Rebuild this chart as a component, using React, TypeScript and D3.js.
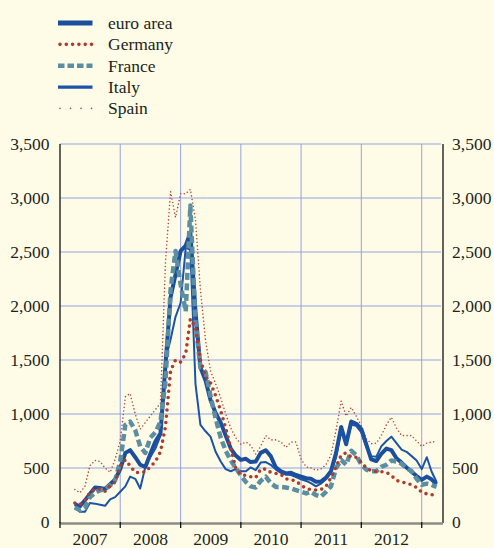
import React from 'react';
import * as d3 from 'd3';

// monthly observations, April 2007 .. April 2013
const seriesNames = ['euro area', 'Germany', 'France', 'Italy', 'Spain'];
const yearLabels = ['2007', '2008', '2009', '2010', '2011', '2012'];
const yTicks = [0, 500, 1000, 1500, 2000, 2500, 3000, 3500];

const euroArea = [
  165, 145, 200, 260, 320, 315, 305, 350, 395,
  490, 640, 665, 600, 530, 510, 630, 745, 820, 1450, 2080, 2290,
  2510, 2560, 2680, 1950, 1430, 1310, 1130, 1010, 920, 800, 680, 615,
  575, 585, 555, 560, 640, 665, 610, 505, 470, 450, 455, 435,
  420, 405, 400, 373, 375, 410, 470, 640, 880, 720, 930, 910,
  860, 715, 580, 565, 630, 680, 665, 590, 550, 505, 465, 425,
  390, 420, 395, 350,
];
const germany = [
  175, 160, 200, 270, 305, 305, 285, 335, 370,
  520, 575, 520, 460, 455, 465, 510, 560, 650, 880, 1400, 1500,
  1480, 1560, 1880, 1800, 1500, 1350, 1290, 1170, 1030, 870, 680, 500,
  440, 430, 420, 410, 490, 490, 460, 450, 440, 400, 390, 380,
  340, 310, 300, 296, 300, 330, 410, 510, 620, 640, 600, 600,
  550, 500, 475, 466, 466, 460, 430, 385, 370, 360, 345, 320,
  275, 260, 255, 235,
];
const france = [
  135, 110, 130, 230, 270, 295, 300, 340, 385,
  560, 900, 930, 850, 700, 640, 780, 830, 930, 1300, 2150, 2510,
  2200, 1950, 2930, 1850, 1430, 1390, 1170, 960, 780, 660, 570, 500,
  430, 370, 330, 320, 380, 420, 360, 325, 325, 320, 310, 295,
  280, 265, 280, 250, 235, 280, 330, 500, 575, 530, 660, 620,
  530, 485, 470, 470, 510, 530, 570, 560, 540, 500, 470, 400,
  345, 355, 345, 325,
];
const italy = [
  135, 95, 95, 175, 170, 160, 150, 210, 230,
  280, 330, 420, 400, 310, 510, 600, 680, 800, 1500, 1690, 1900,
  2030, 2540, 2520, 1280, 900, 840, 790, 650, 560, 490, 470, 490,
  470, 470, 505, 480, 550, 555, 530, 485, 455, 440, 435, 415,
  395, 380, 360, 330, 355, 395, 460, 600, 850, 720, 900, 890,
  830, 690, 610, 605, 700, 750, 790, 730, 670, 650, 610, 570,
  490, 600, 470, 370,
];
const spain = [
  300, 270, 330, 520, 570, 560, 500, 460, 580,
  750, 1160, 1190, 1000, 860, 920, 980, 1040, 1100, 2400, 3060, 2820,
  3040, 3040, 3080, 2800, 2150, 1680, 1400, 1280, 1150, 1000, 870, 780,
  720, 740, 710, 630, 700, 800, 760, 760, 740, 690, 740, 740,
  580, 510, 500, 480, 490, 530, 620, 850, 1120, 980, 1060, 980,
  890, 770, 725, 730, 800, 900, 970, 870, 800, 800, 800, 750,
  700, 730, 740, 745,
];

const seriesValues = [euroArea, germany, france, italy, spain];

const styles = [
  { color: '#1b4f9e', width: 4, legendWidth: 5, dash: undefined, legendDash: undefined, cap: 'butt' },
  { color: '#b03a2e', width: 3.6, legendWidth: 3.6, dash: '0 6.3', legendDash: '0 6.3', cap: 'round' },
  { color: '#5b8ea0', width: 4.5, legendWidth: 4.5, dash: '7 3.5', legendDash: '6.5 3', cap: 'butt' },
  { color: '#1a53a8', width: 2, legendWidth: 3.3, dash: undefined, legendDash: undefined, cap: 'butt' },
  { color: '#b5473c', width: 1.6, legendWidth: 1.6, dash: '0 3.6', legendDash: '0 10.5', cap: 'round' },
];
const drawOrder = [4, 0, 3, 2, 1];

const width = 494;
const height = 548;
const plot = { left: 60, right: 443, top: 144, bottom: 522 };
const font = '"Liberation Serif"';
const textColor = '#231f20';
const gridColor = '#94a3e2';

function App() {
  const months = d3.timeMonth.range(new Date(2007, 3, 1), new Date(2013, 4, 1));

  const xScale = d3
    .scaleTime()
    .domain([new Date(2007, 0, 1), new Date(2013, 4, 10)])
    .range([plot.left, plot.right]);

  const yScale = d3.scaleLinear().domain([0, 3500]).range([plot.bottom, plot.top]);

  const line = d3
    .line<number>()
    .x((d, i) => xScale(months[i]))
    .y((d) => yScale(d));

  const gridYears = d3.timeYear.range(new Date(2008, 0, 1), new Date(2013, 0, 2));
  const tickYears = d3.timeYear.range(new Date(2007, 0, 1), new Date(2013, 0, 2));
  const fmt = d3.format(',');
  const textStyle = { fontFamily: font, fontSize: '17.5px', fill: textColor };

  return (
    <div>
      <style>{'body{margin:0;background:#fefce6}'}</style>
      <svg width={width} height={height} style={{ display: 'block' }}>
        <rect width={width} height={height} fill="#fefce6" />

        {/* grid */}
        {yTicks
          .filter((d) => d > 0)
          .map((d) => (
            <line key={'h' + d} x1={plot.left} x2={plot.right - 2} y1={yScale(d)} y2={yScale(d)} stroke={gridColor} strokeWidth={1} />
          ))}
        {gridYears.map((d) => (
          <line key={'v' + d.getFullYear()} x1={xScale(d)} x2={xScale(d)} y1={plot.top} y2={plot.bottom} stroke={gridColor} strokeWidth={1} />
        ))}

        {/* series */}
        {drawOrder.map((k) => {
          const s = styles[k];
          return (
            <path
              key={seriesNames[k]}
              d={line(seriesValues[k]) || ''}
              fill="none"
              stroke={s.color}
              strokeWidth={s.width}
              strokeLinejoin="round"
              strokeLinecap={s.cap as any}
              strokeDasharray={s.dash}
            />
          );
        })}

        {/* axes */}
        <line x1={plot.left} x2={plot.left} y1={plot.top} y2={plot.bottom + 1} stroke="#111" strokeWidth={1.3} />
        <line x1={plot.right} x2={plot.right} y1={plot.top} y2={plot.bottom + 1} stroke="#111" strokeWidth={1.3} />
        <line x1={plot.left} x2={plot.right} y1={plot.bottom + 1.5} y2={plot.bottom + 1.5} stroke="#8c8c84" strokeWidth={2.5} />
        {tickYears.map((d) => (
          <line key={'t' + d.getFullYear()} x1={xScale(d)} x2={xScale(d)} y1={plot.bottom} y2={plot.bottom + 6} stroke="#111" strokeWidth={1.3} />
        ))}

        {yearLabels.map((y) => (
          <text
            key={'yr' + y}
            x={(xScale(new Date(+y, 0, 1)) + xScale(new Date(+y + 1, 0, 1))) / 2}
            y={545}
            textAnchor="middle"
            style={textStyle}
          >
            {y}
          </text>
        ))}

        {yTicks.map((d) => (
          <text key={'l' + d} x={49.5} y={yScale(d) + 6} textAnchor="end" style={textStyle}>
            {fmt(d)}
          </text>
        ))}
        {yTicks.map((d) => (
          <text key={'r' + d} x={452} y={yScale(d) + 6} textAnchor="start" style={textStyle}>
            {fmt(d)}
          </text>
        ))}

        {/* legend */}
        {seriesNames.map((name, i) => {
          const s = styles[i];
          const y = 23 + i * 21.35;
          return (
            <g key={'lg' + name} transform={`translate(0, ${y})`}>
              <line
                x1={s.cap === 'round' ? 60 : 58}
                x2={92.5}
                y1={0}
                y2={0}
                stroke={s.color}
                strokeWidth={s.legendWidth}
                strokeLinecap={s.cap as any}
                strokeDasharray={s.legendDash}
              />
              <text x={108} y={6} style={textStyle}>
                {name}
              </text>
            </g>
          );
        })}
      </svg>
    </div>
  );
}

export default App;
